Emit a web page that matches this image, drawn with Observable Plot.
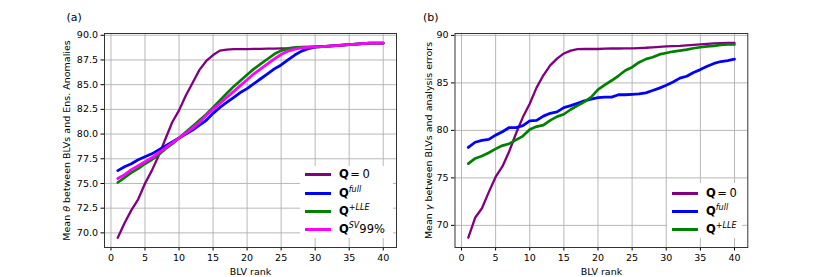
<!DOCTYPE html>
<html><head><meta charset="utf-8">
<script src="https://cdn.jsdelivr.net/npm/d3@7"></script>
<script src="https://cdn.jsdelivr.net/npm/@observablehq/plot@0.6"></script>
<style>
body{margin:0;background:#fff;}
#wrap{position:relative;width:830px;height:277px;font-family:"DejaVu Sans",sans-serif;color:#000;}
.panel{position:absolute;top:0;}
.tag{position:absolute;font-size:11px;line-height:11px;}
.legend{position:absolute;background:#fff;}
.row{position:absolute;height:18px;display:flex;align-items:center;font-size:11.5px;white-space:nowrap;}
.sw{width:26px;height:3px;margin-right:8px;}
.row sup{font-size:8px;font-style:italic;vertical-align:5px;line-height:0;}
.row .eq{margin:0 2.5px 0 1.5px;}
</style></head>
<body><div id="wrap"></div>
<script>
// ---- data ----
const rank = [1,2,3,4,5,6,7,8,9,10,11,12,13,14,15,16,17,18,19,20,21,22,23,24,25,26,27,28,29,30,31,32,33,34,35,36,37,38,39,40];
const xTicks = [0,5,10,15,20,25,30,35,40];
const thetaTicks = [70,72.5,75,77.5,80,82.5,85,87.5,90];
const gammaTicks = [70,75,80,85,90];

// panel (a): mean theta between BLVs and ensemble anomalies
const thetaQ0   = [69.5,71.0,72.3,73.4,75.0,76.3,77.8,79.5,81.2,82.4,83.9,85.2,86.5,87.4,88.0,88.45,88.55,88.6,88.6,88.6,88.62,88.63,88.64,88.65,88.67,88.7,88.75,88.8,88.82,88.85,88.88,88.9,88.95,89.0,89.05,89.1,89.15,89.2,89.2,89.2];
const thetaFull = [76.3,76.7,77.0,77.4,77.7,78.0,78.4,78.8,79.2,79.6,80.0,80.4,80.9,81.4,82.1,82.7,83.2,83.7,84.2,84.6,85.1,85.6,86.1,86.6,87.0,87.5,88.0,88.4,88.65,88.8,88.85,88.9,88.95,89.0,89.05,89.1,89.15,89.2,89.2,89.2];
const thetaLLE  = [75.1,75.6,76.1,76.5,77.0,77.4,77.9,78.5,79.0,79.6,80.2,80.8,81.4,82.0,82.7,83.4,84.1,84.8,85.4,86.0,86.6,87.1,87.6,88.1,88.45,88.65,88.75,88.8,88.8,88.82,88.85,88.9,88.95,89.0,89.05,89.1,89.15,89.2,89.2,89.2];
const thetaSV99 = [75.5,75.9,76.4,76.8,77.2,77.6,78.1,78.6,79.1,79.6,80.1,80.6,81.2,81.9,82.5,83.1,83.7,84.3,84.9,85.5,86.1,86.6,87.1,87.6,88.05,88.4,88.6,88.72,88.78,88.82,88.85,88.9,88.95,89.0,89.05,89.1,89.15,89.2,89.2,89.2];

// panel (b): mean gamma between BLVs and analysis errors
const gammaQ0   = [68.7,70.8,71.8,73.5,75.1,76.2,77.8,79.7,81.4,82.8,84.5,85.8,86.85,87.55,88.1,88.4,88.55,88.58,88.57,88.57,88.6,88.62,88.62,88.63,88.64,88.67,88.7,88.75,88.8,88.85,88.88,88.9,88.95,89.0,89.05,89.1,89.15,89.18,89.2,89.2];
const gammaFull = [78.2,78.75,78.95,79.05,79.5,79.85,80.3,80.3,80.5,81.0,81.05,81.5,81.8,81.95,82.4,82.6,82.85,83.1,83.3,83.45,83.5,83.5,83.75,83.75,83.8,83.85,83.95,84.2,84.45,84.75,85.1,85.5,85.7,86.1,86.4,86.75,87.05,87.25,87.35,87.5];
const gammaLLE  = [76.5,77.05,77.3,77.65,78.05,78.4,78.6,79.0,79.4,80.1,80.4,80.55,81.05,81.45,81.7,82.2,82.6,83.0,83.5,84.3,84.8,85.25,85.75,86.3,86.65,87.15,87.5,87.7,88.0,88.15,88.3,88.4,88.5,88.65,88.75,88.85,88.9,89.0,89.05,89.05];

const colors = {q0: "#800080", full: "#0000ff", lle: "#008000", sv: "#ff00ff"};

function panel(opts) {
  const svg = Plot.plot({
    width: 415, height: 277,
    marginTop: 33, marginBottom: 30, marginLeft: opts.marginLeft, marginRight: opts.marginRight,
    style: {fontFamily: "DejaVu Sans, sans-serif", fontSize: "9.5px", background: "white", color: "black", overflow: "visible"},
    x: {domain: [-0.95, 41.95], ticks: xTicks, tickSize: 3.5, tickPadding: 3, label: "BLV rank", labelAnchor: "center", labelOffset: 27, labelArrow: "none"},
    y: {domain: opts.yDomain, ticks: opts.yTicks, tickFormat: opts.yFormat, tickSize: 3.5, tickPadding: 3, label: opts.yLabel, labelAnchor: "center", labelOffset: opts.labelOffset, labelArrow: "none"},
    marks: [
      Plot.ruleX(xTicks, {stroke: "#b0b0b0", strokeWidth: 0.9}),
      Plot.ruleY(opts.yTicks, {stroke: "#b0b0b0", strokeWidth: 0.9}),
      ...opts.series.map(s => Plot.line(s.values, {x: rank, y: Plot.identity, stroke: s.color, strokeWidth: s.width})),
      Plot.frame({stroke: "#333", strokeWidth: 1})
    ]
  });
  // italic Greek letter in the y label
  d3.select(svg).selectAll("text").filter(function() { return this.textContent === opts.yLabel; })
    .each(function() {
      const t = d3.select(this);
      const [a, b] = opts.yLabel.split(opts.greek);
      t.text(null);
      t.append("tspan").text(a);
      t.append("tspan").attr("font-style", "italic").text(opts.greek);
      t.append("tspan").text(b);
    });
  return svg;
}

const wrap = document.getElementById("wrap");

const svgA = panel({
  marginLeft: 104, marginRight: 19,
  yDomain: [68.52, 90.18], yTicks: thetaTicks, yFormat: d3.format(".1f"),
  yLabel: "Mean θ between BLVs and Ens. Anomalies", greek: "θ", labelOffset: 41,
  series: [
    {values: thetaQ0, color: colors.q0, width: 2.3},
    {values: thetaFull, color: colors.full, width: 2.8},
    {values: thetaLLE, color: colors.lle, width: 2.7},
    {values: thetaSV99, color: colors.sv, width: 2.8}
  ]
});
const svgB = panel({
  marginLeft: 39.5, marginRight: 82.7,
  yDomain: [67.67, 90.2], yTicks: gammaTicks, yFormat: d3.format("d"),
  yLabel: "Mean γ between BLVs and analysis errors", greek: "γ", labelOffset: 30,
  series: [
    {values: gammaQ0, color: colors.q0, width: 2.3},
    {values: gammaFull, color: colors.full, width: 2.8},
    {values: gammaLLE, color: colors.lle, width: 2.7}
  ]
});

const pa = document.createElement("div"); pa.className = "panel"; pa.style.left = "0px"; pa.appendChild(svgA); wrap.appendChild(pa);
const pb = document.createElement("div"); pb.className = "panel"; pb.style.left = "415px"; pb.appendChild(svgB); wrap.appendChild(pb);

function tag(text, left, top) {
  const d = document.createElement("div"); d.className = "tag"; d.textContent = text;
  d.style.left = left + "px"; d.style.top = top + "px"; wrap.appendChild(d);
}
tag("(a)", 66.5, 12);
tag("(b)", 423, 12);

const legendLabels = {
  q0: '<b>Q</b><span class="eq">=</span>0',
  full: '<b>Q</b><sup>full</sup>',
  lle: '<b>Q</b><sup>+LLE</sup>',
  sv: '<b>Q</b><sup>SV</sup>99%'
};
function legend(keys, box, rowCenters, swLeft) {
  const lg = document.createElement("div"); lg.className = "legend";
  Object.assign(lg.style, {left: box[0] + "px", top: box[1] + "px", width: (box[2] - box[0]) + "px", height: (box[3] - box[1]) + "px"});
  wrap.appendChild(lg);
  keys.forEach((k, i) => {
    const r = document.createElement("div"); r.className = "row";
    r.style.left = swLeft + "px"; r.style.top = Math.round(rowCenters[i] - 9) + "px";
    r.innerHTML = `<div class="sw" style="background:${colors[k]}"></div><span>${legendLabels[k]}</span>`;
    wrap.appendChild(r);
  });
}
legend(["q0", "full", "lle", "sv"], [300, 166, 393, 238], [174.3, 192.7, 211, 229.3], 305);
legend(["q0", "full", "lle"], [667, 183, 742, 238], [193.3, 211.3, 229.3], 672);
</script>
</body></html>
